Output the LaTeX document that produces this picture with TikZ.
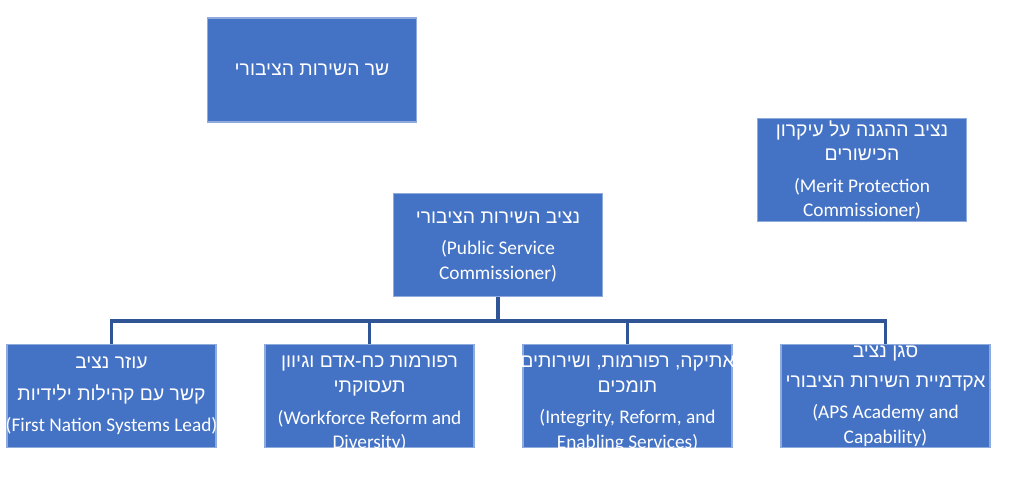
\documentclass[tikz,border=0pt]{standalone}
\usepackage{fontspec}
\setmainfont{Carlito}
\newfontfamily\hebfont[Script=Hebrew]{Liberation Sans}
\TeXXeTstate=1
\definecolor{box-fill}{RGB}{68,114,196}
\definecolor{box-edge}{RGB}{143,170,220}
\definecolor{link-dark}{RGB}{47,85,151}
\newcommand{\heb}[1]{{\hebfont\beginR #1\endR}}
\usetikzlibrary{positioning}

\begin{document}
\begin{tikzpicture}[
    x=0.2mm, y=-0.2mm,
    orgbox/.style={draw=box-edge, line width=0.6pt, fill=box-fill,
        minimum width=4.18cm, minimum height=2.06cm, inner sep=0pt},
    orgtext/.style={text=white, align=center, inner sep=0pt,
        font=\fontsize{11}{14}\selectfont},
    link/.style={draw=link-dark, line width=1.8pt}
]
\useasboundingbox (0,0) rectangle (1024,482);

% Boxes
\node[orgbox, minimum height=2.08cm] (minister) at (312,70) {};
\node[orgbox] (merit) at (862,170) {};
\node[orgbox] (psc) at (498,245) {};
\node[orgbox] (firstnation) at (111.5,396) {};
\node[orgbox] (workforce) at (369.5,396) {};
\node[orgbox] (integrity) at (627.5,396) {};
\node[orgbox] (academy) at (885.5,396) {};

% Texts
\node[orgtext] (minister-t) at (minister.center) {\heb{שר השירות הציבורי}};
\node[orgtext] (merit-t) at (merit.center) {\heb{נציב ההגנה על עיקרון}\\\heb{הכישורים}\\[4pt](Merit Protection\\Commissioner)};
\node[orgtext] (psc-t) at ([yshift=-1pt]psc.center) {\heb{נציב השירות הציבורי}\\[4pt](Public Service\\Commissioner)};
\node[orgtext] (firstnation-t) at (firstnation.center) {\heb{עוזר נציב}\\[4pt]\heb{קשר עם קהילות ילידיות}\\[4pt](First Nation Systems Lead)};
\node[orgtext] (workforce-t) at ([yshift=4pt]workforce.center) {\heb{עוזר נציב}\\[3pt]\heb{רפורמות כח-אדם וגיוון}\\\heb{תעסוקתי}\\[4pt](Workforce Reform and\\Diversity)};
\node[orgtext] (integrity-t) at ([yshift=4pt]integrity.center) {\heb{סגן נציב}\\[3pt]\heb{אתיקה, רפורמות, ושירותים}\\\heb{תומכים}\\[4pt](Integrity, Reform, and\\Enabling Services)};
\node[orgtext] (academy-t) at (academy.center) {\heb{סגן נציב}\\[3pt]\heb{אקדמיית השירות הציבורי}\\[4pt](APS Academy and\\Capability)};

% Connectors
\coordinate (bar) at (498,321);
\draw[link] (psc.south) -- (bar);
\draw[link] (firstnation.north) |- (bar) -| (academy.north);
\draw[link] (workforce.north) -- (workforce.north |- bar);
\draw[link] (integrity.north) -- (integrity.north |- bar);

\end{tikzpicture}
\end{document}
